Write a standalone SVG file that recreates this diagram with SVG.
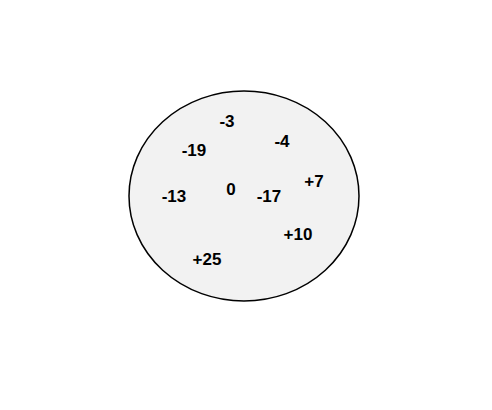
<svg xmlns="http://www.w3.org/2000/svg" width="492" height="410" viewBox="0 0 492 410">
<style>
.t{font-family:"Liberation Sans",Arial,sans-serif;font-weight:bold;font-size:17px;fill:#000;text-anchor:middle}
</style>
<rect width="492" height="410" fill="#fff"/>
<g id="set">
<ellipse cx="244" cy="196" rx="115" ry="105" fill="#f2f2f2" stroke="#000" stroke-width="1.5"/>
</g>
<g id="n-3"><text class="t" x="227" y="127">-3</text></g>
<g id="n-19"><text class="t" x="194" y="156">-19</text></g>
<g id="n-4"><text class="t" x="282" y="147">-4</text></g>
<g id="n7"><text class="t" x="314" y="187">+7</text></g>
<g id="n-13"><text class="t" x="174" y="202">-13</text></g>
<g id="n0"><text class="t" x="231" y="195">0</text></g>
<g id="n-17"><text class="t" x="269" y="202">-17</text></g>
<g id="n10"><text class="t" x="298" y="240">+10</text></g>
<g id="n25"><text class="t" x="207" y="265">+25</text></g>
<g id="connectors"></g>
</svg>
